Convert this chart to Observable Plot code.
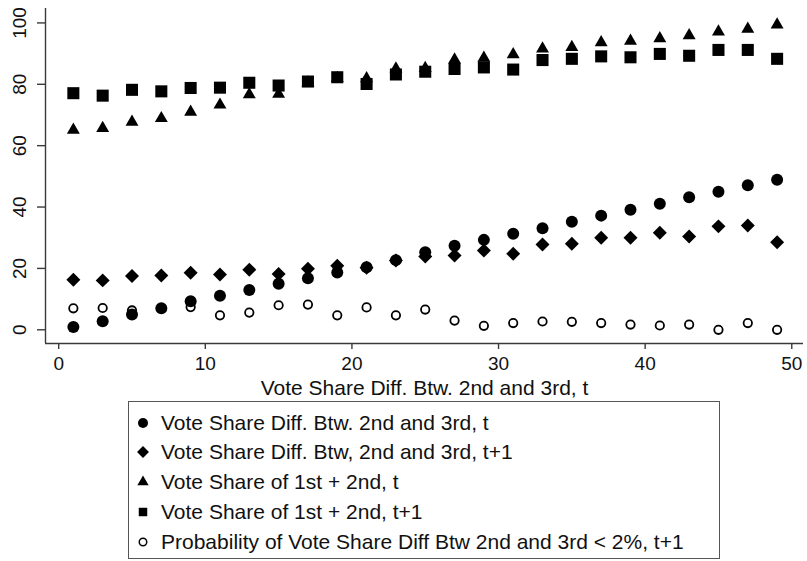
<!DOCTYPE html>
<html><head><meta charset="utf-8">
<script src="https://cdn.jsdelivr.net/npm/d3@7"></script>
<script src="https://cdn.jsdelivr.net/npm/@observablehq/plot@0.6"></script>
<style>
body{margin:0;background:#fff;}
#wrap{position:relative;width:807px;height:561px;font-family:"Liberation Sans",Arial,Helvetica,sans-serif;color:#111;background:#fff;overflow:hidden}
#legend{position:absolute;left:128px;top:401px;width:592px;height:158px;box-sizing:border-box;border:1.3px solid #555;}
.sym{position:absolute;width:20px;height:20px;}
.lab{position:absolute;height:30px;line-height:30px;font-size:21px;white-space:nowrap;}
</style></head><body><div id="wrap"><div id="chart"></div><div id="legend"></div></div>
<script>
const xs = [1,3,5,7,9,11,13,15,17,19,21,23,25,27,29,31,33,35,37,39,41,43,45,47,49];
const diffT = [0.9,2.8,5.0,7.0,9.3,11.1,13.0,15.0,16.8,18.7,20.4,22.7,25.3,27.4,29.3,31.3,33.1,35.2,37.2,39.1,41.1,43.2,45.0,47.1,48.9];
const diffT1 = [16.3,16.1,17.5,17.7,18.6,18.0,19.6,18.2,19.9,20.9,20.2,22.6,23.9,24.2,25.8,24.8,27.8,28.0,30.0,30.0,31.6,30.4,33.7,34.0,28.5];
const shareT = [65.1,65.7,67.7,68.9,71.0,73.3,76.7,76.8,80.5,82.0,81.9,85.1,85.2,88.0,88.6,89.7,91.6,92.1,93.6,94.1,94.9,95.9,97.1,98.0,99.4];
const shareT1 = [77.1,76.3,78.2,77.7,78.8,78.9,80.5,79.6,80.9,82.3,80.1,83.2,84.1,85.0,85.5,84.8,87.9,88.3,89.1,88.8,89.9,89.3,91.2,91.2,88.3];
const probT1 = [7.0,7.1,6.3,7.0,7.4,4.7,5.6,8.0,8.2,4.7,7.3,4.7,6.6,3.0,1.3,2.2,2.7,2.6,2.2,1.7,1.4,1.7,0.0,2.2,0.0];
const xTicks = [0,10,20,30,40,50];
const yTicks = [0,20,40,60,80,100];
const xTitle = "Vote Share Diff. Btw. 2nd and 3rd, t";
const legendLabels = [
  "Vote Share Diff. Btw. 2nd and 3rd, t",
  "Vote Share Diff. Btw, 2nd and 3rd, t+1",
  "Vote Share of 1st + 2nd, t",
  "Vote Share of 1st + 2nd, t+1",
  "Probability of Vote Share Diff Btw 2nd and 3rd < 2%, t+1"
];

const rows = xs.map((x, i) => ({x, diffT: diffT[i], diffT1: diffT1[i], shareT: shareT[i], shareT1: shareT1[i], probT1: probT1[i]}));
const xDom = [-0.9, 50.8];
const yDom = [-4.47, 104.7];
const axisColor = "#3a3a3a";

const chart = Plot.plot({
  width: 807, height: 400,
  marginLeft: 45, marginRight: 4, marginTop: 8, marginBottom: 57,
  style: {fontFamily: '"Liberation Sans",Arial,Helvetica,sans-serif', fontSize: "19px", color: "#111", background: "#fff"},
  x: {domain: xDom},
  y: {domain: yDom},
  marks: [
    Plot.ruleX([xDom[0]], {stroke: axisColor, strokeWidth: 1.4}),
    Plot.ruleY([yDom[0]], {stroke: axisColor, strokeWidth: 1.4}),
    Plot.axisX({ticks: xTicks, tickSize: 6, tickPadding: 7, label: null, stroke: axisColor, strokeWidth: 1.4, fill: "#111", fontSize: 19}),
    Plot.axisY({ticks: yTicks, tickSize: 8, tickFormat: () => "", label: null, stroke: axisColor, strokeWidth: 1.4}),
    Plot.text(yTicks, {y: d => d, text: d => String(d), frameAnchor: "left", rotate: -90, dx: -19.5, lineAnchor: "bottom", textAnchor: "middle", fontSize: 19, fill: "#111"}),
    Plot.text([xTitle], {text: d => d, frameAnchor: "bottom", dy: 51, lineAnchor: "bottom", fontSize: 21, fill: "#111"}),
    Plot.dot(rows, {x: "x", y: "diffT", symbol: "circle", r: 6, fill: "#000"}),
    Plot.dot(rows, {x: "x", y: "diffT1", symbol: "diamond2", r: 6.3, fill: "#000"}),
    Plot.dot(rows, {x: "x", y: "shareT", symbol: "triangle", r: 4.8, fill: "#000"}),
    Plot.dot(rows, {x: "x", y: "shareT1", symbol: "square", r: 6.8, fill: "#000"}),
    Plot.dot(rows, {x: "x", y: "probT1", symbol: "circle", r: 4.2, fill: "none", stroke: "#000", strokeWidth: 1.8})
  ]
});
document.getElementById("chart").appendChild(chart);

// legend
const leg = document.getElementById("legend");
const legSyms = [
  {type: d3.symbolCircle, size: Math.PI * 25, fill: "#000", stroke: "none"},
  {type: d3.symbolDiamond2, size: 90, fill: "#000", stroke: "none"},
  {type: d3.symbolTriangle, size: 55, fill: "#000", stroke: "none"},
  {type: d3.symbolSquare, size: 72, fill: "#000", stroke: "none"},
  {type: d3.symbolCircle, size: Math.PI * 14, fill: "none", stroke: "#000"}
];
const rowCenters = [21, 50, 80, 110, 140];
legendLabels.forEach((lab, i) => {
  const s = legSyms[i];
  const svg = d3.create("svg").attr("class", "sym").attr("width", 20).attr("height", 20)
    .style("left", "4px").style("top", (rowCenters[i] - 10) + "px");
  svg.append("path").attr("transform", "translate(10,10)")
    .attr("d", d3.symbol(s.type, s.size)())
    .attr("fill", s.fill).attr("stroke", s.stroke).attr("stroke-width", 1.5);
  leg.appendChild(svg.node());
  const t = document.createElement("div");
  t.className = "lab";
  t.style.left = "32px";
  t.style.top = (rowCenters[i] - 15) + "px";
  t.textContent = lab;
  leg.appendChild(t);
});
</script>
</body></html>
